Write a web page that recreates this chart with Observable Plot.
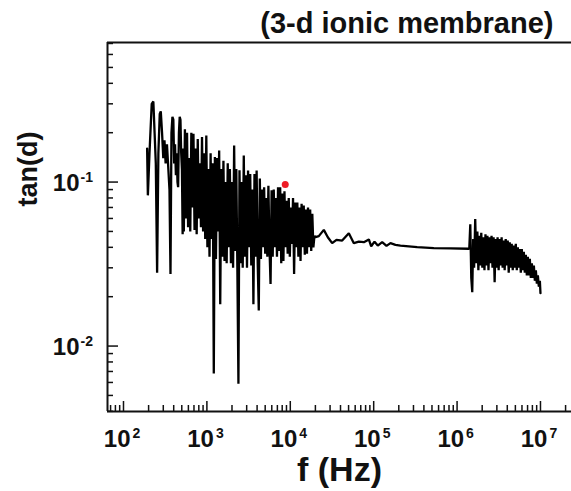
<!DOCTYPE html>
<html><head><meta charset="utf-8">
<script src="https://cdn.jsdelivr.net/npm/d3@7"></script>
<script src="https://cdn.jsdelivr.net/npm/@observablehq/plot@0.6"></script>
<style>body{margin:0;background:#fff}#chart svg{display:block}</style>
</head><body><div id="chart"></div>
<script>
// Segment 1: low-frequency noisy region (Hz, tan d)
const seg1Freq = [192,196,205,218,228,236,244,253,262,272,280,290,300,310,320,332,345,356,366,376,386,396,405,415,425,435,444,452,462,472,482,492,502,512,520,
529,545,561,578,595,613,632,651,670,690,711,732,754,777,800,824,849,874,901,928,955,984,1014,1044,1075,1108,1141,1175,1210,1247,1284,1323,1362,1403,1445,1489,1533,1579,1627,1675,1726,1778,1831,1886,1942,2001,2061,2122,2186,2252,2319,2389,2460,2534,2610,2689,2769,2852,2938,3026,3117,3210,3307,3406,3508,3613,3722,3833,3948,4067,4189,4314,4444,4577,4714,4856,5002,5152,5306,5465,5629,5798,5972,6151,6336,6526,6722,6923,7131,7345,7565,7792,8026,8267,8515,8770,9033,9304,9584,9871,10167,10472,10787,11110,11444,11787,12141,12505,12880,13266,13664,14074,14497,14931,15379,15841,16316,16806,17310,17829,18364,18915,19483];
const seg1Tan = [0.16,0.083,0.15,0.30,0.31,0.2,0.13,0.028,0.15,0.26,0.27,0.2,0.14,0.18,0.13,0.17,0.12,0.09,0.0275,0.2,0.25,0.24,0.13,0.17,0.11,0.15,0.10,0.093,0.2,0.25,0.24,0.15,0.12,0.048,0.16,
0.05,0.21,0.06,0.20,0.053,0.14,0.05,0.2,0.07,0.197,0.051,0.16,0.048,0.183,0.06,0.13,0.053,0.188,0.05,0.15,0.045,0.192,0.04,0.12,0.035,0.15,0.045,0.13,0.0068,0.142,0.034,0.14,0.05,0.156,0.018,0.12,0.035,0.135,0.033,0.1,0.032,0.13,0.04,0.12,0.032,0.1,0.03,0.167,0.038,0.12,0.03,0.0059,0.118,0.032,0.1,0.03,0.145,0.035,0.11,0.03,0.1175,0.04,0.112,0.031,0.09,0.018,0.112,0.035,0.1175,0.032,0.0165,0.105,0.034,0.09,0.04,0.093,0.0365,0.08,0.035,0.095,0.04,0.0239,0.089,0.035,0.09,0.04,0.08,0.035,0.093,0.038,0.093,0.032,0.085,0.033,0.088,0.04,0.077,0.0365,0.08,0.035,0.07,0.042,0.08,0.0275,0.075,0.04,0.075,0.035,0.07,0.033,0.0736,0.04,0.072,0.036,0.068,0.0365,0.07,0.04,0.068,0.038,0.064,0.04,0.047];
// Segment 2: mid-frequency smooth region
const seg2Freq = [20050,21980,25240,28180,31770,35810,41880,50350,57810,66370,76210,87500,93330,102300,112000,126400,142500,158900,182400,209500,331900,526000,833000,1383000];
const seg2Tan = [0.0461,0.0468,0.0511,0.0461,0.0424,0.0444,0.044,0.0488,0.0424,0.0433,0.043,0.0447,0.0406,0.0433,0.041,0.043,0.0408,0.0424,0.0414,0.041,0.0401,0.0396,0.0394,0.0392];
// Segment 3: high-frequency noisy region (MHz, tan d)
const seg3FreqMHz = [1.40,1.44,1.48,1.52,1.56,1.60,1.65,1.70,1.75,1.80,1.85,1.90,1.95,2.01,2.07,2.13,2.19,2.25,2.31,2.38,2.45,2.52,2.59,2.66,2.74,2.82,2.90,2.98,3.06,3.15,3.24,3.33,3.42,3.52,3.62,3.72,3.83,3.94,4.05,4.16,4.28,4.40,4.52,4.65,4.78,4.92,5.06,5.20,5.35,5.50,5.65,5.81,5.97,6.14,6.31,6.49,6.67,6.86,7.05,7.25,7.45,7.66,7.88,8.10,8.33,8.56,8.80,9.05,9.30,9.56,9.83,10.0];
const seg3Tan = [0.039,0.0552,0.026,0.0213,0.045,0.03,0.0596,0.032,0.05,0.029,0.047,0.031,0.049,0.03,0.046,0.029,0.048,0.031,0.047,0.029,0.046,0.032,0.047,0.03,0.046,0.0245,0.045,0.03,0.046,0.029,0.045,0.031,0.046,0.03,0.044,0.029,0.045,0.031,0.044,0.028,0.043,0.03,0.042,0.029,0.041,0.03,0.042,0.029,0.040,0.03,0.039,0.028,0.039,0.029,0.0375,0.028,0.036,0.027,0.035,0.027,0.034,0.026,0.032,0.026,0.031,0.025,0.029,0.024,0.027,0.023,0.025,0.021];
// Highlighted point
const markerFreq = [8700];
const markerTan = [0.0965];

// Axes
const xMajorTicks = [1e2,1e3,1e4,1e5,1e6,1e7];
const xTickExponents = ["2","3","4","5","6","7"];
const yMajorTicks = [1e-2,1e-1];
const yTickExponents = ["-2","-1"];
const titleText = "(3-d ionic membrane)";
const xLabel = "f (Hz)";
const yLabel = "tan(d)";

const xDomain = [64.3, 2.355e7];
const yDomain = [0.00399, 0.7096];

const series = [];
seg1Freq.forEach((f,i)=>series.push({f, t: seg1Tan[i]}));
seg2Freq.forEach((f,i)=>series.push({f, t: seg2Tan[i]}));
seg3FreqMHz.forEach((f,i)=>series.push({f: f*1e6, t: seg3Tan[i]}));
const marker = markerFreq.map((f,i)=>({f, t: markerTan[i]}));

const xMinor = [], yMinor = [];
for (let d = 1; d <= 7; d++) for (let k = 2; k <= 9; k++) { const v = k*10**d; if (v > xDomain[0] && v < xDomain[1]) xMinor.push(v); }
for (let d = -3; d <= -1; d++) for (let k = 2; k <= 9; k++) { const v = k*10**d; if (v > yDomain[0] && v < yDomain[1]) yMinor.push(v); }

const W = 571, H = 491, mL = 107, mR = 0, mT = 42, mB = 80;
const innerW = W - mL - mR, innerH = H - mT - mB;
const font = "'Liberation Sans', Arial, sans-serif";
const ink = "#111";

const chart = Plot.plot({
  width: W, height: H,
  marginLeft: mL, marginRight: mR, marginTop: mT, marginBottom: mB,
  style: {fontFamily: font, background: "#fff", overflow: "visible"},
  x: {type: "log", domain: xDomain, axis: null},
  y: {type: "log", domain: yDomain, axis: null},
  marks: [
    Plot.ruleX(xMinor, {x: d => d, insetTop: innerH - 6, stroke: ink, strokeWidth: 1.5}),
    Plot.ruleX(xMajorTicks, {x: d => d, insetTop: innerH - 10, stroke: ink, strokeWidth: 1.5}),
    Plot.ruleY(yMinor, {y: d => d, insetRight: innerW - 6, stroke: ink, strokeWidth: 1.5}),
    Plot.ruleY(yMajorTicks, {y: d => d, insetRight: innerW - 11, stroke: ink, strokeWidth: 1.5}),
    Plot.line(series, {x: "f", y: "t", stroke: "#000", strokeWidth: 2.3, strokeLinejoin: "miter"}),
    Plot.dot(marker, {x: "f", y: "t", r: 3.5, fill: "#ee1c25", stroke: null}),
    Plot.ruleX([xDomain[0]], {stroke: ink, strokeWidth: 2}),
    Plot.ruleY([yDomain[0], yDomain[1]], {stroke: ink, strokeWidth: 2}),
    // x tick labels
    Plot.text(xMajorTicks, {x: d => d, text: () => "10", frameAnchor: "bottom", lineAnchor: "middle", textAnchor: "end", dy: 28, dx: 7, fontSize: 24, fontWeight: "bold", fill: ink}),
    Plot.text(xMajorTicks, {x: d => d, text: (d, i) => xTickExponents[i], frameAnchor: "bottom", lineAnchor: "middle", textAnchor: "start", dy: 22, dx: 9, fontSize: 14, fontWeight: "bold", fill: ink}),
    // y tick labels
    Plot.text(yMajorTicks, {y: d => d, text: () => "10", frameAnchor: "left", lineAnchor: "middle", textAnchor: "end", dx: -28, dy: 1, fontSize: 24, fontWeight: "bold", fill: ink}),
    Plot.text(yMajorTicks, {y: d => d, text: (d, i) => yTickExponents[i], frameAnchor: "left", lineAnchor: "middle", textAnchor: "start", dx: -27, dy: -5, fontSize: 14, fontWeight: "bold", fill: ink}),
    // titles
    Plot.text([titleText], {text: d => d, frameAnchor: "top-right", lineAnchor: "middle", textAnchor: "end", dx: -18, dy: -19, fontSize: 29, fontWeight: "bold", fill: ink}),
    Plot.text([xLabel], {text: d => d, frameAnchor: "bottom", lineAnchor: "middle", dy: 59, fontSize: 34, fontWeight: "bold", fill: ink}),
    Plot.text([yLabel], {text: d => d, y: () => 0.071, frameAnchor: "left", lineAnchor: "middle", dx: -79, rotate: -90, fontSize: 27, fontWeight: "bold", fill: ink})
  ]
});
document.getElementById("chart").appendChild(chart);
</script>
</body></html>
